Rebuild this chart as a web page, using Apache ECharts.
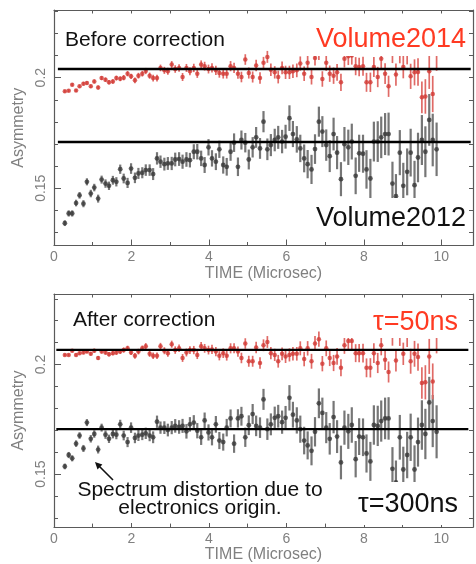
<!DOCTYPE html>
<html><head><meta charset="utf-8">
<script src="https://cdn.jsdelivr.net/npm/echarts@6/dist/echarts.min.js"></script>
<style>html,body{margin:0;padding:0;background:#fff}#c{width:476px;height:564px}</style>
</head><body><div id="c"></div>
<script>
// time bins (microseconds)
const times = [0.28,0.38,0.47,0.57,0.66,0.76,0.85,0.95,1.04,1.14,
1.23,1.33,1.42,1.52,1.61,1.71,1.80,1.90,1.99,2.09,
2.18,2.28,2.37,2.47,2.56,2.66,2.75,2.85,2.94,3.04,
3.13,3.23,3.32,3.42,3.51,3.61,3.70,3.80,3.89,3.99,
4.08,4.18,4.27,4.37,4.46,4.56,4.65,4.75,4.84,4.94,
5.03,5.13,5.22,5.32,5.41,5.51,5.60,5.70,5.79,5.89,
5.98,6.08,6.17,6.27,6.36,6.46,6.55,6.65,6.74,6.84,
6.93,7.03,7.12,7.22,7.31,7.41,7.50,7.60,7.69,7.79,
7.88,7.98,8.07,8.17,8.26,8.36,8.45,8.55,8.64,8.74,
8.83,8.93,9.02,9.12,9.21,9.31,9.40,9.50,9.59,9.69,
9.78,9.88];

// Before correction
const beforeVolume2014 = [.1938,.1941,.1968,.1942,.1961,.1973,.1976,.1961,.1983,.1956,
.1998,.1991,.1979,.1983,.1998,.1995,.2000,.2018,.2006,.1988,
.2009,.2018,.2030,.2009,.1998,.1998,.2044,.2033,.2029,.2059,
.2039,.2044,.2003,.2044,.2029,.2044,.2018,.2059,.2052,.2039,
.2044,.2033,.2021,.2018,.2018,.2052,.2044,.2018,.2003,.2082,
.2021,.2003,.2055,.1998,.2067,.2094,.2036,.2024,.2003,.2044,
.2024,.2024,.2029,.2033,.2064,.2018,.2067,.2003,.2089,.2115,
.1994,.2067,.2018,.2009,.2024,.1979,.2085,.2097,.2100,.2052,
.2048,.2052,.1979,.1979,.2048,.2003,.2085,.2018,.1961,.2115,
.2014,.2115,.2048,.2115,.2006,.2024,.2026,.1911,.1915,.2029,
.1926,.2115];
const beforeVolume2012 = [.1342,.1386,.1386,.1433,.1468,.1430,.1529,.1476,.1503,.1453,
.1539,.1521,.1511,.1536,.1529,.1586,.1544,.1524,.1589,.1547,
.1567,.1570,.1582,.1582,.1564,.1635,.1620,.1609,.1612,.1612,
.1630,.1632,.1620,.1630,.1627,.1665,.1665,.1635,.1605,.1685,
.1635,.1620,.1676,.1605,.1597,.1665,.1706,.1597,.1718,.1706,
.1630,.1685,.1730,.1680,.1801,.1676,.1695,.1718,.1730,.1711,
.1733,.1817,.1745,.1721,.1680,.1635,.1609,.1585,.1677,.1801,
.1756,.1695,.1645,.1745,.1661,.1541,.1699,.1685,.1711,.1556,
.1658,.1656,.1585,.1544,.1711,.1711,.1730,.1745,.1745,.1521,
.1464,.1661,.1511,.1574,.1661,.1514,.1639,.1718,.1665,.1809,
.1718,.1676];

// After correction
const afterTau50 = [.2044,.2044,.2063,.2044,.2052,.2055,.2059,.2049,.2063,.2030,
.2059,.2055,.2047,.2052,.2055,.2059,.2066,.2074,.2055,.2040,
.2059,.2074,.2084,.2049,.2040,.2040,.2084,.2063,.2052,.2093,
.2066,.2074,.2030,.2055,.2066,.2066,.2044,.2084,.2074,.2066,
.2069,.2059,.2040,.2052,.2040,.2074,.2074,.2059,.2030,.2096,
.2015,.2015,.2078,.2007,.2088,.2103,.2052,.2044,.2015,.2049,
.2037,.2044,.2049,.2049,.2074,.2025,.2074,.2015,.2096,.2116,
.2004,.2074,.2030,.2007,.2037,.1985,.2088,.2108,.2108,.2052,
.2052,.2052,.1985,.1985,.2052,.2007,.2088,.2022,.1966,.2135,
.2018,.2135,.2049,.2135,.2015,.2049,.2034,.1916,.1919,.2037,
.1923,.2135];
const afterTau300 = [.1535,.1587,.1572,.1639,.1676,.1617,.1735,.1661,.1683,.1612,
.1712,.1680,.1661,.1683,.1680,.1727,.1676,.1646,.1712,.1665,
.1676,.1680,.1686,.1676,.1668,.1739,.1712,.1712,.1701,.1712,
.1720,.1715,.1720,.1695,.1727,.1735,.1698,.1668,.1745,.1690,
.1668,.1727,.1653,.1646,.1712,.1754,.1639,.1754,.1764,.1668,
.1723,.1774,.1720,.1712,.1841,.1705,.1727,.1757,.1764,.1737,
.1757,.1848,.1771,.1745,.1705,.1653,.1631,.1606,.1693,.1823,
.1779,.1712,.1661,.1760,.1671,.1553,.1712,.1695,.1724,.1568,
.1671,.1668,.1594,.1558,.1724,.1720,.1742,.1754,.1754,.1524,
.1462,.1668,.1521,.1587,.1668,.1521,.1646,.1724,.1683,.1827,
.1742,.1693];

// error bar half-widths
const errRed = [.0006,.0006,.0007,.0007,.0007,.0008,.0008,.0008,
.0009,.0009,.0009,.0010,.0010,.0010,.0011,.0011,.0012,.0012,.0012,
.0013,.0013,.0013,.0014,.0014,.0015,.0015,.0015,.0016,.0016,.0016,
.0017,.0017,.0018,.0018,.0018,.0019,.0019,.0019,.0020,.0020,
.0021,.0021,.0021,.0022,.0022,.0023,.0023,.0023,.0024,.0024,.0025,
.0025,.0026,.0026,.0027,.0027,.0028,.0028,.0029,.0029,.0030,
.0030,.0031,.0031,.0032,.0033,.0033,.0034,.0034,.0035,.0035,.0036,
.0037,.0037,.0038,.0039,.0039,.0040,.0041,.0041,.0042,.0043,
.0043,.0044,.0045,.0046,.0046,.0047,.0048,.0049,.0050,.0050,.0051,
.0055,.0057,.0059,.0062,.0072,.0078,.0080,.0082,.0084];
const errBlack = [.0013,.0014,.0014,.0015,.0015,.0016,.0016,.0017,
.0017,.0018,.0018,.0019,.0019,.0020,.0021,.0021,.0022,.0023,.0024,
.0024,.0025,.0025,.0026,.0026,.0027,.0028,.0028,.0029,.0029,.0030,
.0031,.0031,.0032,.0033,.0033,.0034,.0035,.0035,.0036,.0037,
.0037,.0038,.0039,.0039,.0040,.0041,.0042,.0042,.0043,.0044,.0045,
.0046,.0047,.0047,.0048,.0049,.0050,.0051,.0052,.0053,.0054,
.0058,.0059,.0060,.0062,.0063,.0064,.0066,.0067,.0068,.0070,.0071,
.0072,.0074,.0075,.0077,.0078,.0080,.0081,.0083,.0084,.0086,
.0087,.0089,.0090,.0092,.0094,.0095,.0097,.0099,.0100,.0102,.0104,
.0106,.0108,.0110,.0112,.0113,.0115,.0117,.0119,.0121];

// reference lines
const refBefore = [0.2039, 0.1709];
const refBeforeSpan = [0.1, 10.76];
const refAfter = [0.2067, 0.1705];
const refAfterSpan = [0.06, 10.7];

// ticks
const xTicks = [0,1,2,3,4,5,6,7,8,9,10];
const xMajor = [0,2,4,6,8,10];
const yTicks = [0.13,0.14,0.15,0.16,0.17,0.18,0.19,0.2,0.21,0.22,0.23];
const yMajor = [0.15,0.2];

const FONT = "'Liberation Sans', Arial, Helvetica, sans-serif";
const AX = '#5a5a5a', LAB = '#808080';
const RED = '#d23a34', RED_BAR = '#e06a66', BLK = '#383838', BLK_BAR = '#767676';
const XMAX = 10.82;

const panels = [
  {top:10, height:235.5, ymin:0.1241, ymax:0.2306, red:beforeVolume2014, black:beforeVolume2012, ref:refBefore, span:refBeforeSpan},
  {top:294, height:237.7, ymin:0.1258, ymax:0.2322, red:afterTau50, black:afterTau300, ref:refAfter, span:refAfterSpan}
];

const grid = [], xAxis = [], yAxis = [], series = [];
panels.forEach((p, g) => {
  grid.push({left:54, top:p.top, width:419, height:p.height});
  const lineStyle = {color:AX, width:1.2};
  xAxis.push({type:'value', gridIndex:g, position:'bottom', min:0, max:XMAX,
    name:'TIME (Microsec)', nameLocation:'middle', nameGap:19,
    nameTextStyle:{color:LAB, fontSize:16, fontFamily:FONT},
    axisLine:{show:true, onZero:false, lineStyle},
    axisTick:{show:true, inside:true, length:3.5, customValues:xTicks, lineStyle:{color:AX}},
    axisLabel:{show:true, customValues:xMajor, margin:5, color:LAB, fontSize:14, fontFamily:FONT},
    splitLine:{show:false}});
  xAxis.push({type:'value', gridIndex:g, position:'bottom', min:0, max:XMAX,
    axisLine:{show:false, onZero:false},
    axisTick:{show:true, inside:true, length:6, customValues:xMajor, lineStyle:{color:AX}},
    axisLabel:{show:false}, splitLine:{show:false}});
  xAxis.push({type:'value', gridIndex:g, position:'top', min:0, max:XMAX,
    axisLine:{show:true, onZero:false, lineStyle},
    axisTick:{show:true, inside:true, length:3.5, customValues:xTicks, lineStyle:{color:AX}},
    axisLabel:{show:false}, splitLine:{show:false}});
  yAxis.push({type:'value', gridIndex:g, position:'left', min:p.ymin, max:p.ymax,
    name:'Asymmetry', nameLocation:'middle', nameGap:24, nameRotate:90,
    nameTextStyle:{color:LAB, fontSize:16, fontFamily:FONT},
    axisLine:{show:true, onZero:false, lineStyle},
    axisTick:{show:true, inside:true, length:4, customValues:yTicks, lineStyle:{color:AX}},
    axisLabel:{show:true, customValues:yMajor, rotate:90, margin:6, color:LAB, fontSize:14, fontFamily:FONT,
      formatter:v => String(+v.toFixed(2))},
    splitLine:{show:false}});
  yAxis.push({type:'value', gridIndex:g, position:'left', min:p.ymin, max:p.ymax,
    axisLine:{show:false, onZero:false},
    axisTick:{show:true, inside:true, length:7, customValues:yMajor, lineStyle:{color:AX}},
    axisLabel:{show:false}, splitLine:{show:false}});
  yAxis.push({type:'value', gridIndex:g, position:'right', min:p.ymin, max:p.ymax,
    axisLine:{show:true, onZero:false, lineStyle},
    axisTick:{show:true, inside:true, length:4, customValues:yTicks, lineStyle:{color:AX}},
    axisLabel:{show:false}, splitLine:{show:false}});

  const xi = g*3, yi = g*3;
  const barSeries = (vals, err, color, w) => ({
    type:'custom', xAxisIndex:xi, yAxisIndex:yi, silent:true, z:2,
    data: times.map((t,i) => [t, vals[i]-err[i], vals[i]+err[i]]),
    renderItem:(params, api) => {
      const a = api.coord([api.value(0), api.value(1)]);
      const b = api.coord([api.value(0), api.value(2)]);
      return {type:'line', shape:{x1:a[0], y1:a[1], x2:b[0], y2:b[1]}, style:{stroke:color, lineWidth:w}};
    }
  });
  series.push(barSeries(p.black, errBlack, BLK_BAR, 2.2));
  series.push(barSeries(p.red, errRed, RED_BAR, 1.7));
  series.push({type:'scatter', xAxisIndex:xi, yAxisIndex:yi, silent:true, z:3,
    symbol:'circle', symbolSize:4.8, itemStyle:{color:BLK},
    data: times.map((t,i) => [t, p.black[i]])});
  series.push({type:'scatter', xAxisIndex:xi, yAxisIndex:yi, silent:true, z:3,
    symbol:'circle', symbolSize:4.5, itemStyle:{color:RED},
    data: times.map((t,i) => [t, p.red[i]])});
  p.ref.forEach(v => {
    series.push({type:'line', xAxisIndex:xi, yAxisIndex:yi, silent:true, z:4,
      symbol:'none', lineStyle:{color:'#000', width:2.4},
      data: [[p.span[0], v], [p.span[1], v]]});
  });
});

const white = (x,y,w,h) => ({type:'rect', z:100, silent:true, shape:{x, y, width:w, height:h}, style:{fill:'#fff'}});
const txt = (text, x, y, size, color, align) => ({type:'text', z:101, silent:true,
  style:{text, x, y, fill:color, font:size+'px '+FONT, align, verticalAlign:'middle'}});

const graphic = [
  white(300,14,166,42),
  white(308,198,158,40),
  white(340,299,126,39),
  white(340,482,126,43),
  white(70,479,262,44),
  txt('Before correction', 65, 40, 21, '#111', 'left'),
  txt('Volume2014', 466, 40, 27, '#ff3a22', 'right'),
  txt('Volume2012', 466, 219, 27, '#111', 'right'),
  txt('After correction', 73, 320, 21, '#111', 'left'),
  txt('τ=50ns', 458, 323, 27, '#ff3a22', 'right'),
  txt('τ=300ns', 458, 505, 27, '#111', 'right'),
  txt('Spectrum distortion due to', 200, 490, 21, '#111', 'center'),
  txt('electronics origin.', 200, 508, 21, '#111', 'center'),
  {type:'line', z:102, silent:true, shape:{x1:113, y1:480, x2:98, y2:465}, style:{stroke:'#111', lineWidth:1.6}},
  {type:'polygon', z:102, silent:true, shape:{points:[[95,462],[102.4,464.5],[97.5,469.4]]}, style:{fill:'#111'}}
];

const chart = echarts.init(document.getElementById('c'), null, {renderer:'canvas'});
chart.setOption({animation:false, backgroundColor:'#fff', grid, xAxis, yAxis, series, graphic});
</script></body></html>
